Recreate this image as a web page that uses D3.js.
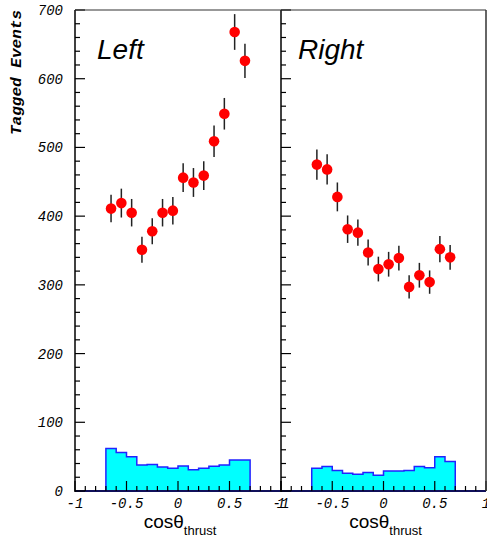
<!DOCTYPE html>
<html lang="en">
<head>
  <meta charset="utf-8">
  <title>Tagged events vs cos theta thrust</title>
  <style>
    body { margin: 0; background: #fff; }
    svg { display: block; }
    .tick-label { font-family: "Liberation Mono", "DejaVu Sans Mono", monospace; font-style: italic; font-size: 14px; fill: #000; }
    .panel-title { font-family: "Liberation Sans", Arial, sans-serif; font-style: italic; font-size: 28px; fill: #000; }
    .x-title { font-family: "Liberation Sans", Arial, sans-serif; fill: #000; }
  </style>
</head>
<body>
<div id="chart"></div>
<script src="https://cdn.jsdelivr.net/npm/d3@7"></script>
<script>

  ////////////////////////////////////////////////// DATA

  // bin centres of cos(theta_thrust)
  var binCenters = [-0.65, -0.55, -0.45, -0.35, -0.25, -0.15, -0.05, 0.05, 0.15, 0.25, 0.35, 0.45, 0.55, 0.65];
  var binWidth = 0.1;

  // tagged events, Left
  var leftValues  = [411, 419, 405, 351, 378, 405, 408, 456, 449, 459, 509, 549, 668, 626];
  var leftErrors  = [20, 21, 20, 19, 19, 20, 20, 21, 21, 21, 23, 23, 26, 25];
  var leftBkg     = [62, 56, 50, 38, 38.5, 35, 33, 36.5, 31, 33, 36, 38, 45, 45];

  // tagged events, Right
  var rightValues = [475, 468, 428, 381, 376, 347, 323, 330, 339, 297, 314, 304, 352, 340];
  var rightErrors = [22, 22, 21, 20, 19, 19, 18, 18, 18, 17, 18, 17, 19, 18];
  var rightBkg    = [33, 35.5, 30, 26, 24.5, 27, 23, 29, 29, 30, 35.5, 34, 50, 43];

  var panelNames  = ["Left", "Right"];
  var xTickValues = [-1, -0.5, 0, 0.5, 1];
  var xTickLabels = ["-1", "-0.5", "0", "0.5", "1"];
  var yTickValues = [0, 100, 200, 300, 400, 500, 600, 700];

  ////////////////////////////////////////////////// SETUP

  var width = 487, height = 538;
  var plotTop = 10, plotBottom = 491;
  var panelEdges = [75, 281, 486];

  var svg = d3.select("#chart").append("svg")
              .attr("width", width)
              .attr("height", height);

  var y = d3.scaleLinear().domain([0, 700]).range([plotBottom, plotTop]);

  var panels = [
    { name: panelNames[0], values: leftValues,  errors: leftErrors,  bkg: leftBkg,  nameOffset: 22,
      x: d3.scaleLinear().domain([-1, 1]).range([panelEdges[0], panelEdges[1]]) },
    { name: panelNames[1], values: rightValues, errors: rightErrors, bkg: rightBkg, nameOffset: 17,
      x: d3.scaleLinear().domain([-1, 1]).range([panelEdges[1], panelEdges[2]]) }
  ];

  // y axis title
  svg.append("text")
     .attr("transform", "translate(21," + plotTop + ") rotate(-90)")
     .attr("text-anchor", "end")
     .attr("textLength", 125)
     .attr("lengthAdjust", "spacingAndGlyphs")
     .style("font-family", "'Liberation Mono', monospace")
     .style("font-weight", "bold")
     .style("font-style", "italic")
     .style("font-size", "14px")
     .text("Tagged Events");

  // y tick labels (left panel only)
  svg.selectAll(".ylab")
     .data(yTickValues)
     .enter().append("text")
     .attr("class", "tick-label")
     .attr("x", 63)
     .attr("y", function(d){ return y(d) + 5; })
     .attr("text-anchor", "end")
     .text(function(d){ return d; });

  panels.forEach(drawPanel);

  // top frame and right border
  svg.append("line")
     .attr("x1", panelEdges[0]).attr("x2", panelEdges[2])
     .attr("y1", plotTop).attr("y2", plotTop)
     .attr("stroke", "#333").attr("stroke-width", 1.2);
  svg.append("line")
     .attr("x1", panelEdges[2]).attr("x2", panelEdges[2])
     .attr("y1", plotTop).attr("y2", plotBottom)
     .attr("stroke", "#333").attr("stroke-width", 1.5);

  ////////////////////////////////////////////////// FUNCTIONS

  function drawPanel(p){
    var g = svg.append("g");
    var x = p.x;

    // background histogram (step shape)
    var steps = binCenters.map(function(c, i){ return { x: c - binWidth / 2, v: p.bkg[i] }; });
    steps.push({ x: binCenters[binCenters.length - 1] + binWidth / 2, v: p.bkg[p.bkg.length - 1] });

    var area = d3.area()
                 .curve(d3.curveStepAfter)
                 .x(function(d){ return x(d.x); })
                 .y0(y(0))
                 .y1(function(d){ return y(d.v); });

    g.append("path")
     .datum(steps)
     .attr("d", area)
     .attr("fill", "#00ffff")
     .attr("stroke", "#2222ff")
     .attr("stroke-width", 1.5);

    // x axis line (dark, histogram zero line over it)
    g.append("line")
     .attr("x1", x(-1)).attr("x2", x(1))
     .attr("y1", y(0)).attr("y2", y(0))
     .attr("stroke", "#10105a").attr("stroke-width", 2);

    // y axis line
    g.append("line")
     .attr("x1", x(-1)).attr("x2", x(-1))
     .attr("y1", plotTop).attr("y2", plotBottom + 1)
     .attr("stroke", "#000").attr("stroke-width", 1.5);

    // x ticks (inside), minor every 0.1
    var xt = d3.range(-10, 11).map(function(i){ return i / 10; });
    g.selectAll(".xtick")
     .data(xt)
     .enter().append("line")
     .attr("x1", function(d){ return x(d); })
     .attr("x2", function(d){ return x(d); })
     .attr("y1", y(0))
     .attr("y2", function(d){ return y(0) - (Math.abs(d * 2 - Math.round(d * 2)) < 1e-6 ? 10 : 5); })
     .attr("stroke", "#000").attr("stroke-width", 1.2);

    // y ticks (inside), minor every 20
    var yt = d3.range(0, 701, 20);
    g.selectAll(".ytick")
     .data(yt)
     .enter().append("line")
     .attr("x1", x(-1))
     .attr("x2", function(d){ return x(-1) + (d % 100 === 0 ? 10 : 5); })
     .attr("y1", function(d){ return y(d); })
     .attr("y2", function(d){ return y(d); })
     .attr("stroke", "#000").attr("stroke-width", 1.2);

    // x tick labels
    g.selectAll(".xlab")
     .data(xTickValues)
     .enter().append("text")
     .attr("class", "tick-label")
     .attr("x", function(d){ return x(d); })
     .attr("y", 508)
     .attr("text-anchor", "middle")
     .text(function(d, i){ return xTickLabels[i]; });

    // x axis title
    var t = g.append("text")
             .attr("class", "x-title")
             .attr("x", x(0) + 2)
             .attr("y", 528)
             .attr("text-anchor", "middle");
    t.append("tspan").style("font-size", "19px").text("cos\u03b8");
    t.append("tspan").style("font-size", "13px").attr("dy", 7).text("thrust");

    // panel name
    g.append("text")
     .attr("class", "panel-title")
     .attr("x", x(-1) + p.nameOffset)
     .attr("y", 59)
     .text(p.name);

    // error bars
    g.selectAll(".err")
     .data(binCenters)
     .enter().append("line")
     .attr("x1", function(d){ return x(d); })
     .attr("x2", function(d){ return x(d); })
     .attr("y1", function(d, i){ return y(p.values[i] - p.errors[i]); })
     .attr("y2", function(d, i){ return y(p.values[i] + p.errors[i]); })
     .attr("stroke", "#222").attr("stroke-width", 1.5);

    // data points
    g.selectAll(".pt")
     .data(binCenters)
     .enter().append("circle")
     .attr("cx", function(d){ return x(d); })
     .attr("cy", function(d, i){ return y(p.values[i]); })
     .attr("r", 5.3)
     .attr("fill", "#ff0000");
  }

</script>
</body>
</html>
